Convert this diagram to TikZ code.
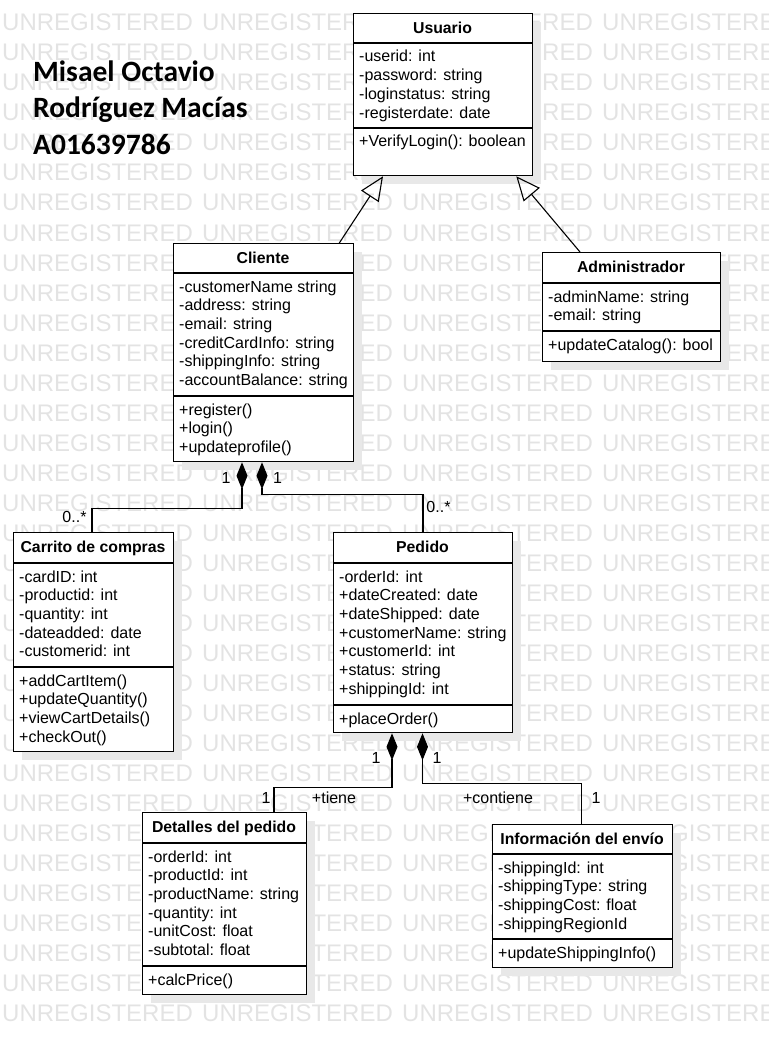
\documentclass[tikz,border=0pt]{standalone}
\usepackage{fontspec}
\setmainfont{Liberation Sans}
\newfontfamily\namefont{Carlito}
\usetikzlibrary{arrows.meta,calc,shadows}

\tikzset{
  classbox/.style={draw=black, line width=1.3pt, fill=white, inner sep=0pt,
    drop shadow={shadow xshift=8pt, shadow yshift=-8pt, fill=black!9, opacity=1}},
  classline/.style={draw=black, line width=1.3pt},
  classtitle/.style={anchor=base, inner sep=0pt, font=\fontsize{15.8}{19}\selectfont\bfseries},
  member/.style={anchor=base west, inner sep=0pt, font=\fontsize{16}{19}\selectfont},
  lbl/.style={inner sep=0pt, font=\fontsize{16}{19}\selectfont},
  wmark/.style={anchor=base west, inner sep=0pt, text=black!11, font=\fontsize{24}{24}\selectfont},
  authorline/.style={anchor=base west, inner sep=0pt, font=\namefont\bfseries\fontsize{29.5}{36}\selectfont},
  gen/.style={line width=1.1pt, -{Triangle[open, length=24pt, width=21pt, line width=1.1pt]}},
  comp/.style={line width=1.1pt, {Diamond[length=27pt, width=11pt]}-},
}

% class frame: name, x1, y1, x2, header bottom, separator, y2, title
\newcommand\umlbox[8]{%
  \node[classbox, minimum width={(#4-#2)*1pt}, minimum height={(#7-#3)*1pt},
        anchor=north west] (#1) at (#2,#3) {};
  \draw[classline] (#1.west |- 0,#5) -- (#1.east |- 0,#5);
  \draw[classline] (#1.west |- 0,#6) -- (#1.east |- 0,#6);
  \node[classtitle] (#1-title) at ({(#2+#4)/2},{#3+20.5}) {#8};
}
% one compartment of members: prefix, x, first baseline, list
\newcommand\umlmembers[4]{%
  \foreach \t [count=\i from 0] in {#4}
    {\node[member] (#1-\i) at (#2,{#3+\i*18.7}) {\t};}
}

\begin{document}
\begin{tikzpicture}[x=1pt,y=-1pt]
\useasboundingbox (0,0) rectangle (768,1043);

% watermark rows
\begin{scope}
  \clip (0,0) rectangle (768,1043);
  \foreach \r in {0,...,33}
    \foreach \c in {0,...,3}
      \node[wmark] (wm-\r-\c) at ({2+200*\c},{31+30*\r}) {UNREGISTERED};
\end{scope}

% author
\node[authorline] (author1) at (33,82) {Misael Octavio};
\node[authorline] (author2) at (33,118) {Rodríguez Macías};
\node[authorline] (author3) at (33,155) {A01639786};

% classes
\umlbox{usuario}{353}{13}{532}{43}{128}{175}{Usuario}
\umlmembers{usuario-a}{359}{62}{-userid: int,-password: string,-loginstatus: string,-registerdate: date}
\umlmembers{usuario-m}{359}{147}{+VerifyLogin(): boolean}

\umlbox{cliente}{173}{243}{353}{273}{396}{461}{Cliente}
\umlmembers{cliente-a}{179}{292}{-customerName string,-address: string,-email: string,-creditCardInfo: string,-shippingInfo: string,-accountBalance: string}
\umlmembers{cliente-m}{179}{415}{+register(),+login(),+updateprofile()}

\umlbox{admin}{542}{252}{720}{283}{331}{361}{Administrador}
\umlmembers{admin-a}{548}{302}{-adminName: string,-email: string}
\umlmembers{admin-m}{548}{350}{+updateCatalog(): bool}

\umlbox{carrito}{13}{532}{173}{563}{667}{751}{Carrito de compras}
\umlmembers{carrito-a}{19}{582}{-cardID: int,-productid: int,-quantity: int,-dateadded: date,-customerid: int}
\umlmembers{carrito-m}{19}{686}{+addCartItem(),+updateQuantity(),+viewCartDetails(),+checkOut()}

\umlbox{pedido}{333}{532}{512}{563}{705}{732}{Pedido}
\umlmembers{pedido-a}{339}{582}{-orderId: int,+dateCreated: date,+dateShipped: date,+customerName: string,+customerId: int,+status: string,+shippingId: int}
\umlmembers{pedido-m}{339}{724}{+placeOrder()}

\umlbox{detalles}{142}{812}{306}{843}{966}{994}{Detalles del pedido}
\umlmembers{detalles-a}{148}{862}{-orderId: int,-productId: int,-productName: string,-quantity: int,-unitCost: float,-subtotal: float}
\umlmembers{detalles-m}{148}{985}{+calcPrice()}

\umlbox{envio}{492}{824}{672}{854}{939}{967}{Información del envío}
\umlmembers{envio-a}{498}{873}{-shippingId: int,-shippingType: string,-shippingCost: float,-shippingRegionId}
\umlmembers{envio-m}{498}{958}{+updateShippingInfo()}

% generalizations
\draw[gen] ($(cliente.north east)+(-15,0)$) -- ($(usuario.south west)+(30,0)$);
\draw[gen] ($(admin.north west)+(38,0)$) -- ($(usuario.south east)+(-17,0)$);

% compositions
\draw[comp] ($(cliente.south west)+(69,0)$) -- ++(0,46) -| ($(carrito.north west)+(79,0)$);
\draw[comp] ($(cliente.south west)+(89,0)$) -- ++(0,32) -| ($(pedido.north west)+(90,0)$);
\draw[comp] ($(pedido.south west)+(59,0)$) -- ++(0,54) -| ($(detalles.north west)+(132,0)$);
\draw[comp] ($(pedido.south west)+(89.5,0)$) -- ++(0,50.5) -| ($(envio.north west)+(89.5,0)$);

% multiplicities and role names
\node[lbl] (m-cc1) at (226,478) {1};
\node[lbl] (m-cc2) at (74.5,517) {0..*};
\node[lbl] (m-cp1) at (277.5,478) {1};
\node[lbl] (m-cp2) at (438.5,507) {0..*};
\node[lbl] (m-pd1) at (376,758) {1};
\node[lbl] (m-pd2) at (266,797.5) {1};
\node[lbl] (r-tiene) at (334,797.5) {+tiene};
\node[lbl] (m-pe1) at (437,758) {1};
\node[lbl] (r-contiene) at (498,798) {+contiene};
\node[lbl] (m-pe2) at (596,798) {1};
\end{tikzpicture}
\end{document}
